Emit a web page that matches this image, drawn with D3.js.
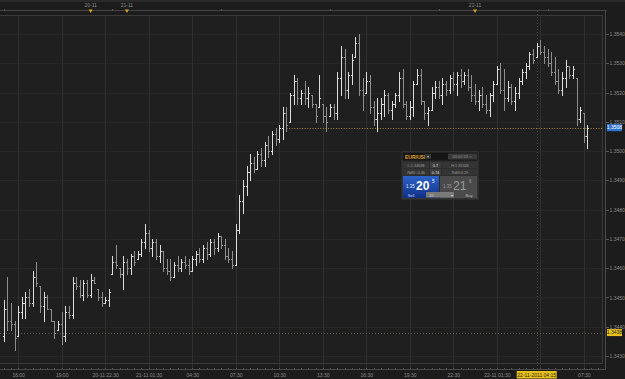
<!DOCTYPE html>
<html><head><meta charset="utf-8">
<script src="https://cdn.jsdelivr.net/npm/d3@7"></script>
<style>html,body{margin:0;padding:0;background:#1c1c1c;overflow:hidden}svg{display:block}</style>
</head><body><svg id="c" width="625" height="379"></svg>
<script>
// ---- data (EUR/USD 15-min bars) ----
const openP=[1.3437,1.3446,1.3442,1.3441,1.3437,1.3445,1.3448,1.3450,1.3448,1.3457,1.3454,1.3447,1.3450,1.3446,1.3442,1.3439,1.3441,1.3437,1.3445,1.3444,
1.3455,1.3454,1.3451,1.3455,1.3451,1.3456,1.3453,1.3450,1.3448,1.3449,1.3458,1.3462,1.3460,1.3458,1.3462,1.3460,1.3464,1.3463,1.3465,1.3469,
1.3472,1.3467,1.3469,1.3464,1.3466,1.3460,1.3459,1.3457,1.3461,1.3460,1.3462,1.3461,1.3459,1.3463,1.3465,1.3463,1.3467,1.3465,1.3469,1.3467,
1.3471,1.3468,1.3464,1.3463,1.3461,1.3473,1.3483,1.3488,1.3493,1.3496,1.3494,1.3499,1.3497,1.3502,1.3500,1.3506,1.3504,1.3508,1.3513,1.3510,
1.3519,1.3524,1.3518,1.3520,1.3518,1.3519,1.3516,1.3515,1.3516,1.3512,1.3512,1.3515,1.3513,1.3525,1.3532,1.3521,1.3526,1.3532,1.3537,1.3521,
1.3520,1.3524,1.3515,1.3511,1.3513,1.3516,1.3519,1.3514,1.3516,1.3519,1.3525,1.3516,1.3512,1.3515,1.3523,1.3526,1.3517,1.3513,1.3514,1.3520,
1.3522,1.3519,1.3523,1.3521,1.3525,1.3523,1.3526,1.3524,1.3526,1.3522,1.3519,1.3517,1.3519,1.3516,1.3514,1.3519,1.3523,1.3528,1.3521,1.3518,
1.3522,1.3517,1.3520,1.3524,1.3527,1.3529,1.3533,1.3532,1.3536,1.3534,1.3532,1.3530,1.3527,1.3524,1.3521,1.3525,1.3529,1.3526,1.3525,1.3511,
1.3513,1.3505];
const highP=[1.3449,1.3457,1.3448,1.3442,1.3447,1.3450,1.3452,1.3453,1.3459,1.3462,1.3454,1.3452,1.3451,1.3446,1.3442,1.3442,1.3445,1.3447,1.3447,1.3457,
1.3457,1.3456,1.3456,1.3456,1.3458,1.3457,1.3453,1.3452,1.3450,1.3453,1.3464,1.3468,1.3460,1.3464,1.3463,1.3465,1.3466,1.3466,1.3470,1.3475,
1.3473,1.3470,1.3470,1.3468,1.3466,1.3463,1.3463,1.3462,1.3464,1.3463,1.3464,1.3463,1.3464,1.3466,1.3467,1.3468,1.3469,1.3470,1.3470,1.3472,
1.3471,1.3470,1.3467,1.3466,1.3475,1.3485,1.3490,1.3495,1.3499,1.3498,1.3500,1.3501,1.3503,1.3505,1.3507,1.3508,1.3509,1.3515,1.3515,1.3520,
1.3526,1.3525,1.3521,1.3524,1.3522,1.3519,1.3516,1.3526,1.3516,1.3515,1.3516,1.3516,1.3527,1.3536,1.3535,1.3527,1.3533,1.3539,1.3540,1.3525,
1.3527,1.3526,1.3517,1.3518,1.3518,1.3521,1.3520,1.3517,1.3520,1.3527,1.3528,1.3517,1.3517,1.3524,1.3528,1.3528,1.3517,1.3515,1.3522,1.3524,
1.3524,1.3525,1.3524,1.3526,1.3527,1.3527,1.3528,1.3527,1.3528,1.3526,1.3523,1.3521,1.3522,1.3519,1.3520,1.3524,1.3529,1.3530,1.3528,1.3524,
1.3523,1.3522,1.3525,1.3528,1.3530,1.3534,1.3535,1.3537,1.3538,1.3536,1.3535,1.3534,1.3532,1.3528,1.3527,1.3531,1.3529,1.3529,1.3525,1.3515,
1.3513,1.3509];
const lowP=[1.3435,1.3439,1.3439,1.3432,1.3437,1.3443,1.3443,1.3447,1.3447,1.3454,1.3445,1.3442,1.3446,1.3442,1.3436,1.3439,1.3434,1.3435,1.3443,1.3443,
1.3453,1.3450,1.3449,1.3450,1.3450,1.3455,1.3449,1.3447,1.3448,1.3447,1.3458,1.3460,1.3457,1.3453,1.3458,1.3458,1.3461,1.3463,1.3464,1.3467,
1.3466,1.3464,1.3463,1.3462,1.3459,1.3458,1.3456,1.3457,1.3459,1.3459,1.3460,1.3458,1.3459,1.3461,1.3462,1.3462,1.3463,1.3464,1.3465,1.3466,
1.3467,1.3463,1.3462,1.3460,1.3461,1.3472,1.3479,1.3485,1.3490,1.3493,1.3494,1.3495,1.3495,1.3498,1.3499,1.3502,1.3503,1.3504,1.3507,1.3510,
1.3516,1.3516,1.3516,1.3516,1.3515,1.3515,1.3510,1.3515,1.3510,1.3507,1.3512,1.3511,1.3511,1.3519,1.3518,1.3518,1.3523,1.3532,1.3519,1.3514,
1.3520,1.3513,1.3509,1.3507,1.3511,1.3512,1.3513,1.3511,1.3515,1.3517,1.3515,1.3511,1.3511,1.3512,1.3523,1.3516,1.3511,1.3509,1.3514,1.3518,
1.3518,1.3516,1.3519,1.3520,1.3521,1.3519,1.3522,1.3523,1.3521,1.3517,1.3516,1.3514,1.3515,1.3513,1.3512,1.3517,1.3523,1.3520,1.3514,1.3517,
1.3516,1.3514,1.3518,1.3523,1.3525,1.3528,1.3530,1.3532,1.3533,1.3530,1.3529,1.3526,1.3523,1.3520,1.3519,1.3522,1.3525,1.3525,1.3509,1.3510,
1.3503,1.3501];
const closeP=[1.3446,1.3442,1.3441,1.3436,1.3445,1.3448,1.3450,1.3448,1.3457,1.3455,1.3447,1.3450,1.3446,1.3442,1.3438,1.3441,1.3437,1.3445,1.3444,1.3455,
1.3454,1.3451,1.3455,1.3451,1.3456,1.3455,1.3450,1.3448,1.3449,1.3452,1.3462,1.3461,1.3458,1.3462,1.3460,1.3464,1.3462,1.3465,1.3469,1.3472,
1.3467,1.3469,1.3464,1.3466,1.3460,1.3459,1.3457,1.3461,1.3460,1.3462,1.3461,1.3459,1.3463,1.3465,1.3463,1.3467,1.3465,1.3469,1.3467,1.3471,
1.3468,1.3464,1.3463,1.3461,1.3473,1.3483,1.3488,1.3493,1.3496,1.3494,1.3499,1.3497,1.3502,1.3500,1.3506,1.3504,1.3508,1.3513,1.3509,1.3519,
1.3524,1.3518,1.3520,1.3518,1.3520,1.3516,1.3512,1.3518,1.3512,1.3510,1.3515,1.3513,1.3525,1.3532,1.3521,1.3526,1.3531,1.3537,1.3521,1.3519,
1.3524,1.3515,1.3511,1.3513,1.3516,1.3519,1.3514,1.3516,1.3519,1.3525,1.3516,1.3512,1.3515,1.3523,1.3526,1.3517,1.3513,1.3514,1.3520,1.3522,
1.3519,1.3523,1.3521,1.3525,1.3523,1.3526,1.3524,1.3526,1.3522,1.3519,1.3517,1.3519,1.3516,1.3514,1.3519,1.3523,1.3528,1.3521,1.3518,1.3522,
1.3517,1.3520,1.3524,1.3527,1.3529,1.3533,1.3531,1.3536,1.3534,1.3532,1.3530,1.3527,1.3524,1.3521,1.3525,1.3529,1.3526,1.3528,1.3511,1.3514,
1.3505,1.3508];
const xTickIdx=[4,16,28,40,52,64,76,88,100,112,124,136,148,160];
const xTickLabels=["16:00","19:00","20-11 22:30","21-11 01:30","04:30","07:30","10:30","13:30","16:30","19:30","22:30","22-11 01:30","04:30","07:30"];
const yTicks=[1.3540,1.3530,1.3520,1.3510,1.3500,1.3490,1.3480,1.3470,1.3460,1.3450,1.3440,1.3430];
const eventIdx=[24,34,130];
const eventLabels=["20-11","21-11","22-11"];
const lastPrice=1.3508, lineStartIdx=78;
const crossIdx=147, crossPrice=1.3438, crossLabel="22-11-2011 04:15";

// ---- layout ----
const svg=d3.select("#c");
const W=625,H=379, pl=0, pr=602, pt=15, pb=363;
const x=d3.scaleLinear().domain([-1,165]).range([0,602]);
const y=d3.scaleLinear().domain([1.3430,1.3540]).range([356,34]);
const F="'Liberation Sans',Arial,sans-serif";

svg.append("rect").attr("width",W).attr("height",H).attr("fill","#1c1c1c");
svg.append("rect").attr("x",0).attr("y",0).attr("width",W).attr("height",2).attr("fill","#2a2a2a");
svg.append("rect").attr("x",pl).attr("y",pt).attr("width",pr-pl).attr("height",pb-pt).attr("fill","#1f1f1f");

// grid
const g=svg.append("g").attr("shape-rendering","crispEdges");
g.selectAll("line.hg").data(yTicks).join("line").attr("class","hg")
 .attr("x1",pl).attr("x2",pr).attr("y1",d=>Math.round(y(d))+.5).attr("y2",d=>Math.round(y(d))+.5)
 .attr("stroke","#272727");
g.selectAll("line.vg").data(xTickIdx).join("line").attr("class","vg")
 .attr("x1",d=>Math.round(x(d))+.5).attr("x2",d=>Math.round(x(d))+.5).attr("y1",pt).attr("y2",369)
 .attr("stroke","#2f2f2f");
// frame
g.append("line").attr("x1",0).attr("x2",pr+.5).attr("y1",pt+.5).attr("y2",pt+.5).attr("stroke","#3a3a3a");
g.append("line").attr("x1",pr+.5).attr("x2",pr+.5).attr("y1",pt).attr("y2",pb+.5).attr("stroke","#3a3a3a");
g.append("line").attr("x1",0).attr("x2",pr+.5).attr("y1",pb+.5).attr("y2",pb+.5).attr("stroke","#3a3a3a");

// top event strip
g.append("line").attr("x1",0).attr("x2",607).attr("y1",10.5).attr("y2",10.5).attr("stroke","#444");
const topTicks=d3.range(0,166,30);
g.selectAll("line.tt").data(topTicks).join("line").attr("class","tt")
 .attr("x1",d=>Math.round(x(d))+.5).attr("x2",d=>Math.round(x(d))+.5).attr("y1",9).attr("y2",11).attr("stroke","#555");
svg.selectAll("text.ev").data(eventIdx).join("text").attr("class","ev")
 .attr("x",d=>x(d)).attr("y",7).attr("text-anchor","middle").attr("font-family",F).attr("font-size",5)
 .attr("fill","#8a8a8a").text((d,i)=>eventLabels[i]);
svg.selectAll("path.ev").data(eventIdx).join("path").attr("class","ev")
 .attr("d",d=>{const cx=x(d);return `M${cx-2},9.5L${cx+2},9.5L${cx},13Z`;})
 .attr("fill","#d9a520");

// crosshair
svg.append("line").attr("x1",pl).attr("x2",pr).attr("y1",Math.round(y(crossPrice))+.5).attr("y2",Math.round(y(crossPrice))+.5)
 .attr("stroke","#5a5a4a").attr("stroke-dasharray","1,2");
svg.append("line").attr("x1",Math.round(x(crossIdx))+.5).attr("x2",Math.round(x(crossIdx))+.5).attr("y1",11).attr("y2",369)
 .attr("stroke","#4a4a4a").attr("stroke-dasharray","1,2");

// order / price line
svg.append("line").attr("x1",x(lineStartIdx)).attr("x2",pr).attr("y1",Math.round(y(lastPrice))+.5).attr("y2",Math.round(y(lastPrice))+.5)
 .attr("stroke","#b08a30").attr("stroke-dasharray","1,1.6");

// OHLC bars
const idx=d3.range(openP.length);
const bars=svg.append("g").attr("shape-rendering","crispEdges");
const col=i=>closeP[i]>=openP[i]?"#dcdcdc":"#8e8e8e";
bars.selectAll("line.hl").data(idx).join("line").attr("class","hl")
 .attr("x1",i=>Math.round(x(i))+.5).attr("x2",i=>Math.round(x(i))+.5)
 .attr("y1",i=>Math.round(y(highP[i]))).attr("y2",i=>Math.round(y(lowP[i]))+1).attr("stroke",col);
bars.selectAll("line.o").data(idx).join("line").attr("class","o")
 .attr("x1",i=>Math.round(x(i))-1).attr("x2",i=>Math.round(x(i)))
 .attr("y1",i=>Math.round(y(openP[i]))+.5).attr("y2",i=>Math.round(y(openP[i]))+.5).attr("stroke",col);
bars.selectAll("line.c").data(idx).join("line").attr("class","c")
 .attr("x1",i=>Math.round(x(i))+1).attr("x2",i=>Math.round(x(i))+2)
 .attr("y1",i=>Math.round(y(closeP[i]))+.5).attr("y2",i=>Math.round(y(closeP[i]))+.5).attr("stroke",col);

// right axis
const ra=svg.append("g").attr("transform","translate(605.5,0)");
ra.call(d3.axisRight(y).tickValues(d3.range(1.3430,1.35405,0.0002)).tickSize(1.5).tickFormat(""));
ra.call(d3.axisRight(y).tickValues(yTicks).tickSize(3).tickFormat(d3.format(".4f")).tickPadding(1));
ra.selectAll(".domain").remove();
ra.selectAll("line").attr("stroke","#555").attr("shape-rendering","crispEdges");
ra.selectAll("text").attr("font-family",F).attr("font-size",5).attr("fill","#8c8c8c");
svg.append("line").attr("x1",605.5).attr("x2",605.5).attr("y1",10).attr("y2",369).attr("stroke","#4a4a4a").attr("shape-rendering","crispEdges");

// bottom axis
const ba=svg.append("g").attr("transform","translate(0,369.5)");
ba.call(d3.axisTop(x).tickValues(d3.range(0,166,2)).tickSize(1.5).tickFormat(""));
ba.selectAll(".domain").remove();
ba.selectAll("line").attr("stroke","#555").attr("shape-rendering","crispEdges");
svg.append("line").attr("x1",0).attr("x2",606).attr("y1",369.5).attr("y2",369.5).attr("stroke","#4a4a4a").attr("shape-rendering","crispEdges");
const bl=svg.append("g").attr("transform","translate(0,369.5)");
bl.call(d3.axisBottom(x).tickValues(xTickIdx).tickSize(0).tickPadding(3.5).tickFormat((d,i)=>xTickLabels[i]));
bl.selectAll(".domain").remove();
bl.selectAll("text").attr("font-family",F).attr("font-size",5).attr("fill","#8c8c8c");
// the tick label under the crosshair time tag is covered in the reference
bl.selectAll(".tick").filter(d=>Math.abs(x(d)-x(crossIdx))<20).remove();

// value labels
function tag(cx,cy,w,h,bg,fg,txt){
  svg.append("rect").attr("x",cx).attr("y",cy).attr("width",w).attr("height",h).attr("fill",bg);
  svg.append("text").attr("x",cx+w/2).attr("y",cy+h/2+1.8).attr("text-anchor","middle")
   .attr("font-family",F).attr("font-size",5).attr("fill",fg).text(txt);
}
tag(607,y(lastPrice)-3.5,15,7,"#2f74d0","#ffffff",d3.format(".4f")(lastPrice));
tag(607,y(crossPrice)-3.5,15,7,"#e8c21a","#222",d3.format(".4f")(crossPrice));
tag(x(crossIdx)-20,371,40,7.5,"#e8c21a","#222",crossLabel);

// trade widget
const wg=svg.append("g").attr("font-family",F);
const wx=402, wy=152;
wg.append("rect").attr("x",wx).attr("y",wy).attr("width",76).attr("height",47).attr("fill","#2c2c2c").attr("stroke","#4a4a4a").attr("stroke-width",.6);
wg.append("rect").attr("x",wx+.5).attr("y",wy+.5).attr("width",75).attr("height",8).attr("fill","#151515");
wg.append("text").attr("x",wx+3).attr("y",wy+6.5).attr("font-size",5).attr("font-weight","bold").attr("fill","#e3a52a").text("EUR/USD");
wg.append("rect").attr("x",wx+23).attr("y",wy+2).attr("width",6).attr("height",5).attr("fill","#333");
wg.append("text").attr("x",wx+26).attr("y",wy+6).attr("text-anchor","middle").attr("font-size",4).attr("fill","#bbb").text("▾");
wg.append("rect").attr("x",wx+46).attr("y",wy+1.5).attr("width",29).attr("height",6).attr("fill","#3a3a3a");
wg.append("text").attr("x",wx+60).attr("y",wy+6).attr("text-anchor","middle").attr("font-size",4).attr("fill","#8a8a8a").text("00:00:33 ×");
const cells=[[["L:1.34688",0,26],["0.7",27,11],["H:1.35346",39,36]],[["Rdf0:-0.46",0,26],["0.74",27,11],["Rdf0:0.29",39,36]]];
cells.forEach((row,r)=>row.forEach(c=>{
  const cy=wy+10+r*7;
  wg.append("rect").attr("x",wx+1+c[1]).attr("y",cy).attr("width",c[2]).attr("height",6).attr("fill",c[0].length<5?"#3c3c3c":"#343434");
  wg.append("text").attr("x",wx+1+c[1]+c[2]/2).attr("y",cy+4.5).attr("text-anchor","middle").attr("font-size",3.8).attr("fill",c[0].length<5?"#e0e0e0":"#9a9a9a").text(c[0]);
}));
const grad=svg.append("defs").append("linearGradient").attr("id","bl").attr("x1",0).attr("x2",0).attr("y1",0).attr("y2",1);
grad.append("stop").attr("offset","0").attr("stop-color","#2d63c8");
grad.append("stop").attr("offset","1").attr("stop-color","#0e2f86");
wg.append("rect").attr("x",wx+1).attr("y",wy+24).attr("width",36).attr("height",22).attr("fill","url(#bl)");
wg.append("rect").attr("x",wx+38).attr("y",wy+24).attr("width",37).attr("height",22).attr("fill","#4a4a4a");
wg.append("text").attr("x",wx+4).attr("y",wy+36).attr("font-size",4.5).attr("fill","#e8ecff").text("1.35");
wg.append("text").attr("x",wx+14).attr("y",wy+38).attr("font-size",12).attr("font-weight","bold").attr("fill","#ffffff").text("20");
wg.append("text").attr("x",wx+30).attr("y",wy+31).attr("font-size",4.5).attr("fill","#ffffff").text("5");
wg.append("text").attr("x",wx+41).attr("y",wy+36).attr("font-size",4.5).attr("fill","#9a9a9a").text("1.35");
wg.append("text").attr("x",wx+51).attr("y",wy+38).attr("font-size",12).attr("fill","#9a9a9a").text("21");
wg.append("text").attr("x",wx+67).attr("y",wy+31).attr("font-size",4.5).attr("fill","#9a9a9a").text("6");
wg.append("rect").attr("x",wx+24).attr("y",wy+40).attr("width",28).attr("height",5.5).attr("fill","#7a7a7a");
wg.append("text").attr("x",wx+27).attr("y",wy+44.5).attr("font-size",4).attr("fill","#cfcfcf").text("10");
wg.append("text").attr("x",wx+49).attr("y",wy+44.5).attr("font-size",4).attr("fill","#cfcfcf").text("▾");
wg.append("text").attr("x",wx+9).attr("y",wy+44.5).attr("font-size",4).attr("fill","#cfd8ff").attr("text-anchor","middle").text("Sell");
wg.append("text").attr("x",wx+67).attr("y",wy+44.5).attr("font-size",4).attr("fill","#bbbbbb").attr("text-anchor","middle").text("Buy");
</script></body></html>
